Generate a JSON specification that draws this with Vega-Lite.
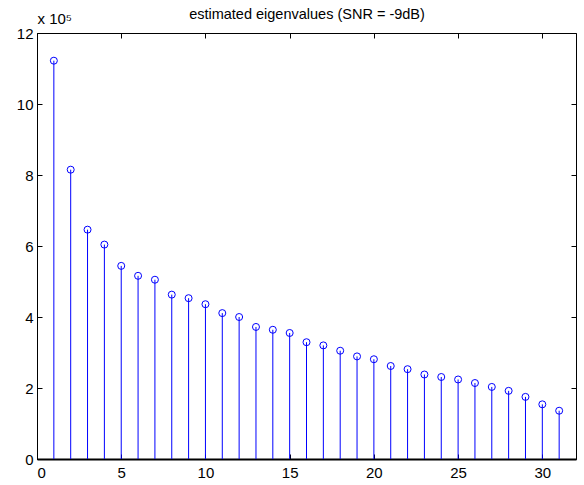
{
  "$schema": "https://vega.github.io/schema/vega-lite/v6.json",
  "autosize": {"type": "none"},
  "width": 539,
  "height": 426,
  "padding": {"left": 37, "top": 33, "right": 8, "bottom": 26},
  "background": "white",
  "config": {
    "view": {"stroke": "black", "strokeWidth": 1},
    "axis": {"domainColor": "black", "tickColor": "black", "labelColor": "black", "labelFont": "Liberation Sans", "labelFontSize": 15, "grid": false, "tickSize": -5, "titleFont": "Liberation Sans", "titleColor": "black"}
  },
  "data": {"values": [
    {"k": 1, "v": 1122000}, {"k": 2, "v": 815000}, {"k": 3, "v": 646000}, {"k": 4, "v": 604000},
    {"k": 5, "v": 544000}, {"k": 6, "v": 516000}, {"k": 7, "v": 505000}, {"k": 8, "v": 463000},
    {"k": 9, "v": 453000}, {"k": 10, "v": 436000}, {"k": 11, "v": 411000}, {"k": 12, "v": 400000},
    {"k": 13, "v": 372000}, {"k": 14, "v": 364000}, {"k": 15, "v": 355000}, {"k": 16, "v": 329000},
    {"k": 17, "v": 320000}, {"k": 18, "v": 305000}, {"k": 19, "v": 289000}, {"k": 20, "v": 281000},
    {"k": 21, "v": 262000}, {"k": 22, "v": 253000}, {"k": 23, "v": 238000}, {"k": 24, "v": 231000},
    {"k": 25, "v": 224000}, {"k": 26, "v": 214000}, {"k": 27, "v": 203000}, {"k": 28, "v": 192000},
    {"k": 29, "v": 175000}, {"k": 30, "v": 154000}, {"k": 31, "v": 136000}
  ]},
  "layer": [
    {
      "mark": {"type": "rule", "color": "#0000FF", "strokeWidth": 1},
      "encoding": {
        "x": {"field": "k", "type": "quantitative", "scale": {"domain": [0, 32], "nice": false, "zero": false},
          "axis": {"orient": "bottom", "values": [0, 5, 10, 15, 20, 25, 30], "title": null, "labelPadding": 11, "domainWidth": 2}},
        "y": {"field": "v", "type": "quantitative", "scale": {"domain": [0, 1200000], "nice": false},
          "axis": {"orient": "left", "values": [0, 200000, 400000, 600000, 800000, 1000000, 1200000], "labelExpr": "datum.value / 100000", "labelPadding": 9, "title": "x 10\u2075", "titleAngle": 0, "titleAlign": "left", "titleBaseline": "bottom", "titleX": 0, "titleY": -7, "titleFontSize": 15, "titleFontWeight": "normal"}},
        "y2": {"datum": 0}
      }
    },
    {
      "mark": {"type": "point", "shape": "circle", "filled": false, "color": "#0000FF", "size": 49, "strokeWidth": 1, "opacity": 1},
      "encoding": {
        "x": {"field": "k", "type": "quantitative",
          "axis": {"orient": "top", "values": [0, 5, 10, 15, 20, 25, 30], "labels": false, "domain": false, "title": "estimated eigenvalues (SNR = -9dB)", "titleFontSize": 14.5, "titleFontWeight": "normal", "titlePadding": 11}},
        "y": {"field": "v", "type": "quantitative",
          "axis": {"orient": "right", "values": [0, 200000, 400000, 600000, 800000, 1000000, 1200000], "labels": false, "domain": false, "title": null}}
      }
    }
  ],
  "resolve": {"axis": {"x": "independent", "y": "independent"}}
}
